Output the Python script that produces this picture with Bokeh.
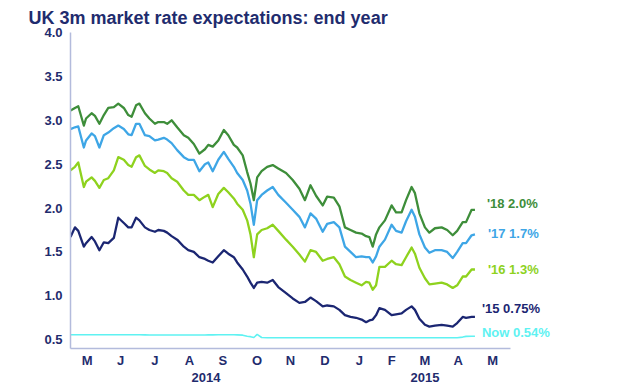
import pandas as pd
from bokeh.plotting import figure
from bokeh.models import DatetimeAxis, FixedTicker, Label, Range1d, PrintfTickFormatter
from bokeh.embed import file_html
from bokeh.resources import INLINE

dates = [
    "2014-05-01", "2014-05-05", "2014-05-08", "2014-05-13", "2014-05-15", "2014-05-20",
    "2014-05-23", "2014-05-27", "2014-05-31", "2014-06-04", "2014-06-09", "2014-06-13",
    "2014-06-18", "2014-06-22", "2014-06-25", "2014-06-29", "2014-07-02", "2014-07-07",
    "2014-07-11", "2014-07-16", "2014-07-19", "2014-07-24", "2014-07-27", "2014-07-31",
    "2014-08-05", "2014-08-11", "2014-08-15", "2014-08-20", "2014-08-25", "2014-08-30",
    "2014-09-02", "2014-09-06", "2014-09-11", "2014-09-16", "2014-09-20", "2014-09-25",
    "2014-09-28", "2014-10-03", "2014-10-07", "2014-10-10", "2014-10-13", "2014-10-16",
    "2014-10-20", "2014-10-25", "2014-10-30", "2014-11-04", "2014-11-11", "2014-11-17",
    "2014-11-23", "2014-11-28", "2014-12-03", "2014-12-08", "2014-12-14", "2014-12-18",
    "2014-12-24", "2014-12-29", "2015-01-03", "2015-01-08", "2015-01-13", "2015-01-18",
    "2015-01-22", "2015-01-25", "2015-01-28", "2015-01-31", "2015-02-03", "2015-02-08",
    "2015-02-14", "2015-02-18", "2015-02-23", "2015-02-27", "2015-03-04", "2015-03-07",
    "2015-03-11", "2015-03-16", "2015-03-20", "2015-03-25", "2015-03-31", "2015-04-05",
    "2015-04-10", "2015-04-14", "2015-04-19", "2015-04-22", "2015-04-27", "2015-04-30",
]

end_2018 = [
    3.11, 3.14, 3.16, 2.94, 3.02, 3.08, 3.05, 2.96, 3.06, 3.14, 3.15, 3.19,
    3.14, 3.06, 3.04, 3.17, 3.19, 3.08, 3.02, 2.96, 2.98, 2.98, 2.96, 3.00,
    2.92, 2.83, 2.80, 2.73, 2.62, 2.67, 2.72, 2.70, 2.77, 2.89, 2.83, 2.72,
    2.69, 2.60, 2.41, 2.28, 2.09, 2.35, 2.42, 2.47, 2.49, 2.45, 2.40, 2.32,
    2.22, 2.09, 2.26, 2.14, 2.03, 2.13, 2.12, 2.02, 1.78, 1.75, 1.72, 1.71,
    1.68, 1.67, 1.56, 1.70, 1.78, 1.86, 2.03, 1.95, 1.95, 2.09, 2.24, 2.17,
    1.94, 1.78, 1.72, 1.77, 1.78, 1.75, 1.69, 1.74, 1.84, 1.84, 1.98, 1.98,
]
end_2017 = [
    2.90, 2.92, 2.93, 2.69, 2.77, 2.85, 2.82, 2.69, 2.83, 2.86, 2.91, 2.94,
    2.90, 2.84, 2.83, 2.96, 2.96, 2.83, 2.82, 2.77, 2.78, 2.80, 2.78, 2.74,
    2.66, 2.58, 2.55, 2.55, 2.42, 2.50, 2.52, 2.42, 2.55, 2.64, 2.56, 2.47,
    2.40, 2.32, 2.20, 2.05, 1.81, 2.09, 2.15, 2.20, 2.24, 2.15, 2.06, 1.98,
    1.90, 1.78, 1.94, 1.88, 1.73, 1.82, 1.84, 1.78, 1.56, 1.50, 1.44, 1.45,
    1.44, 1.44, 1.38, 1.45, 1.56, 1.64, 1.81, 1.74, 1.72, 1.85, 1.98, 1.90,
    1.70, 1.55, 1.49, 1.52, 1.52, 1.50, 1.43, 1.50, 1.60, 1.60, 1.69, 1.70,
]
end_2016 = [
    2.43, 2.47, 2.52, 2.24, 2.30, 2.35, 2.31, 2.23, 2.32, 2.34, 2.43, 2.58,
    2.55, 2.49, 2.47, 2.58, 2.60, 2.48, 2.44, 2.40, 2.43, 2.42, 2.40, 2.34,
    2.30, 2.20, 2.15, 2.15, 2.09, 2.13, 2.15, 2.01, 2.16, 2.23, 2.18, 2.11,
    2.05, 1.98, 1.86, 1.70, 1.44, 1.70, 1.75, 1.77, 1.81, 1.74, 1.64, 1.56,
    1.47, 1.39, 1.52, 1.50, 1.40, 1.42, 1.44, 1.36, 1.22, 1.18, 1.15, 1.12,
    1.16, 1.15, 1.07, 1.12, 1.33, 1.33, 1.40, 1.36, 1.35, 1.44, 1.55, 1.48,
    1.32, 1.20, 1.13, 1.14, 1.15, 1.13, 1.09, 1.12, 1.22, 1.22, 1.30, 1.30,
]
end_2015 = [
    1.67, 1.78, 1.74, 1.56, 1.60, 1.67, 1.62, 1.52, 1.61, 1.60, 1.66, 1.89,
    1.83, 1.78, 1.78, 1.89, 1.86, 1.78, 1.75, 1.73, 1.75, 1.74, 1.72, 1.68,
    1.64, 1.56, 1.52, 1.50, 1.44, 1.42, 1.40, 1.38, 1.45, 1.52, 1.48, 1.44,
    1.38, 1.30, 1.22, 1.15, 1.09, 1.15, 1.16, 1.15, 1.18, 1.10, 1.03, 0.97,
    0.92, 0.93, 0.98, 0.94, 0.88, 0.89, 0.88, 0.84, 0.78, 0.76, 0.75, 0.73,
    0.70, 0.72, 0.73, 0.78, 0.86, 0.84, 0.78, 0.79, 0.80, 0.84, 0.88, 0.84,
    0.74, 0.67, 0.65, 0.66, 0.67, 0.66, 0.65, 0.69, 0.76, 0.75, 0.76, 0.76,
]
now_rate = [
    0.556, 0.556, 0.556, 0.557, 0.556, 0.556, 0.556, 0.556, 0.556, 0.556, 0.556, 0.556,
    0.556, 0.556, 0.556, 0.556, 0.556, 0.555, 0.553, 0.553, 0.553, 0.553, 0.553, 0.553,
    0.554, 0.554, 0.554, 0.554, 0.554, 0.554, 0.555, 0.555, 0.556, 0.556, 0.556, 0.556,
    0.555, 0.552, 0.540, 0.535, 0.525, 0.560, 0.525, 0.522, 0.522, 0.522, 0.522, 0.522,
    0.522, 0.522, 0.522, 0.522, 0.522, 0.522, 0.522, 0.522, 0.522, 0.522, 0.522, 0.522,
    0.522, 0.522, 0.522, 0.522, 0.522, 0.522, 0.522, 0.522, 0.522, 0.522, 0.522, 0.522,
    0.522, 0.522, 0.522, 0.522, 0.522, 0.522, 0.522, 0.522, 0.530, 0.538, 0.540, 0.540,
]

month_tick_dates = ["2014-05-16", "2014-06-15", "2014-07-16", "2014-08-16", "2014-09-15",
                    "2014-10-16", "2014-11-15", "2014-12-16", "2015-01-16", "2015-02-14",
                    "2015-03-16", "2015-04-15", "2015-05-16"]
month_labels = ["M", "J", "J", "A", "S", "O", "N", "D", "J", "F", "M", "A", "M"]
year_tick_dates = ["2014-08-31", "2015-03-16"]
year_labels = ["2014", "2015"]
y_ticks = [0.5, 1.0, 1.5, 2.0, 2.5, 3.0, 3.5, 4.0]

series_names = ["'18 2.0%", "'17 1.7%", "'16 1.3%", "'15 0.75%", "Now 0.54%"]
series_values = [end_2018, end_2017, end_2016, end_2015, now_rate]
label_y = [2.05, 1.71, 1.30, 0.86, 0.58]

colors = ["#3e8e3a", "#3ea6e6", "#8ed21e", "#1b2672", "#5ff2f2"]
widths = [2.3, 2.3, 2.3, 2.3, 1.6]
label_offsets = [12, 13, 13, 7, 7]
NAVY = "#1f2c6e"
AXIS = "#b3bbdc"
FONT = "Liberation Sans"

axis_start, axis_end = "2014-05-01", "2015-06-01"
view_end = "2015-08-21"


def ms(d):
    return int(pd.Timestamp(d).value // 10**6)


x = pd.to_datetime(dates)

p = figure(width=620, height=391, x_axis_type="datetime",
           output_backend="svg", toolbar_location=None,
           x_range=Range1d(ms(axis_start), ms(view_end)),
           y_range=Range1d(0.4, 4.0),
           min_border_left=70, min_border_right=20,
           min_border_top=32, min_border_bottom=43)

p.title.text = "UK 3m market rate expectations: end year"
p.title.text_font = FONT
p.title.text_font_size = "18px"
p.title.text_font_style = "bold"
p.title.text_color = NAVY
p.title.align = "left"
p.title.offset = -42
p.title.standoff = 9

p.xgrid.visible = False
p.ygrid.visible = False
p.outline_line_color = None
p.background_fill_color = "white"
p.border_fill_color = "white"

xa = p.below[0]
xa.bounds = (ms(axis_start), ms(axis_end))
xa.ticker = FixedTicker(ticks=[ms(d) for d in month_tick_dates])
xa.major_label_overrides = {ms(d): t for d, t in zip(month_tick_dates, month_labels)}
xa.axis_line_color = AXIS
xa.axis_line_width = 1.5
xa.major_tick_line_color = None
xa.minor_tick_line_color = None
xa.major_tick_out = 0
xa.major_label_standoff = 4
xa.major_label_text_font = FONT
xa.major_label_text_font_style = "bold"
xa.major_label_text_font_size = "13px"
xa.major_label_text_color = NAVY

ya = p.left[0]
ya.ticker = FixedTicker(ticks=y_ticks)
ya.formatter = PrintfTickFormatter(format="%.1f")
ya.axis_line_color = AXIS
ya.axis_line_width = 1.5
ya.major_tick_line_color = None
ya.minor_tick_line_color = None
ya.major_tick_out = 0
ya.major_label_standoff = 8
ya.major_label_text_font = FONT
ya.major_label_text_font_style = "bold"
ya.major_label_text_font_size = "13px"
ya.major_label_text_color = NAVY

year_axis = DatetimeAxis(
    ticker=FixedTicker(ticks=[ms(d) for d in year_tick_dates]),
    major_label_overrides={ms(d): t for d, t in zip(year_tick_dates, year_labels)},
    axis_line_color=None, major_tick_line_color=None, minor_tick_line_color=None,
    major_tick_out=0, major_label_standoff=2,
    major_label_text_font=FONT, major_label_text_font_style="bold",
    major_label_text_font_size="13px", major_label_text_color=NAVY)
p.add_layout(year_axis, "below")

for name, vals, col, w in zip(series_names, series_values, colors, widths):
    p.line(x, vals, line_color=col, line_width=w, line_join="round")

last_x = ms(dates[-1])
for name, ly, col, off in zip(series_names, label_y, colors, label_offsets):
    p.add_layout(Label(x=last_x, y=ly, x_offset=off, text=name,
                       text_font=FONT, text_font_style="bold", text_font_size="13px",
                       text_color=col, text_baseline="middle", text_align="left"))

open("out.html", "w").write(file_html(p, INLINE))
